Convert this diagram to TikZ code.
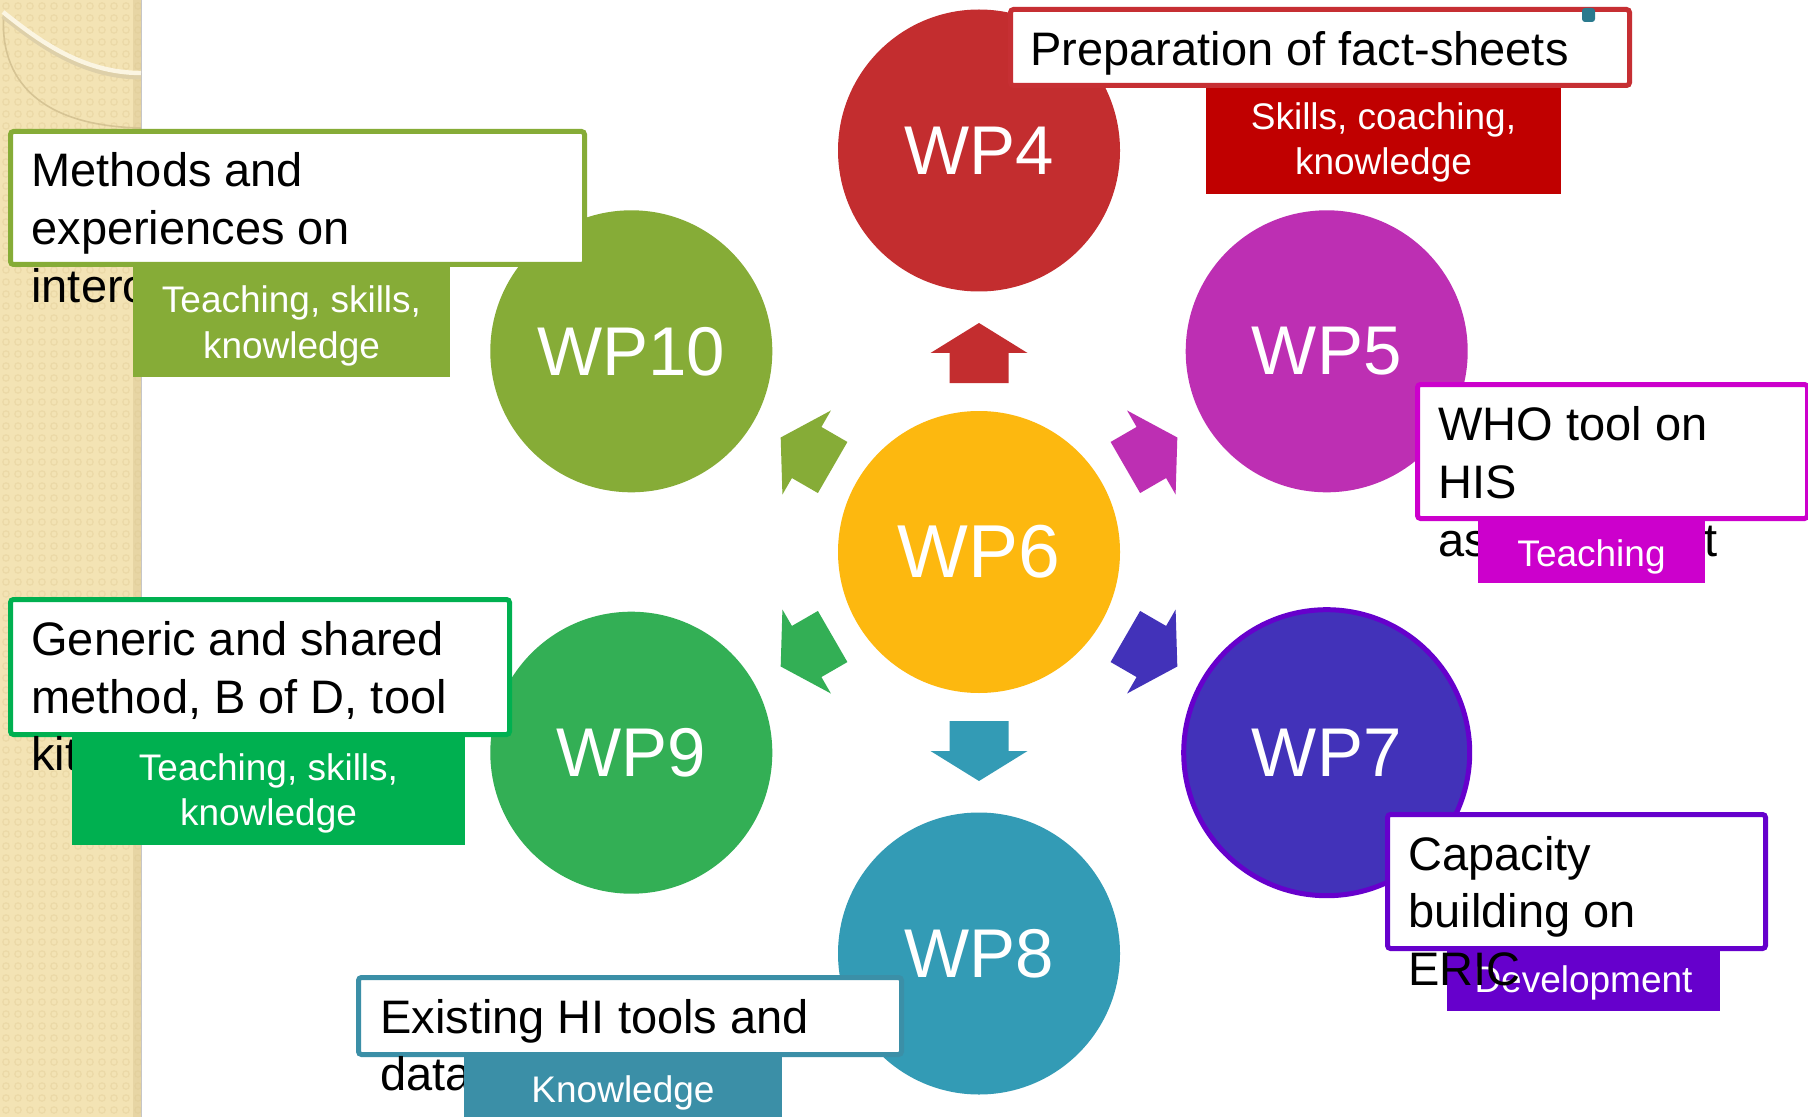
\documentclass[tikz,border=0pt]{standalone}
\usepackage{fontspec}
\setmainfont{Liberation Sans}
\definecolor{cA}{HTML}{C32D2F}
\definecolor{cAsub}{HTML}{C00000}
\definecolor{cAline}{HTML}{C62F33}
\definecolor{cB}{HTML}{BD2FB3}
\definecolor{cBline}{HTML}{CC00CC}
\definecolor{cC}{HTML}{FDB80F}
\definecolor{cD}{HTML}{4232B9}
\definecolor{cDline}{HTML}{6600CC}
\definecolor{cE}{HTML}{339BB5}
\definecolor{cEline}{HTML}{3B8FA7}
\definecolor{cF}{HTML}{33AF55}
\definecolor{cFline}{HTML}{00B050}
\definecolor{cG}{HTML}{86AC37}
\definecolor{stripbg}{HTML}{F3E3B4}
\definecolor{stripdot}{HTML}{EBD9A7}
\definecolor{stripedge}{HTML}{DCC995}
\definecolor{creamline}{HTML}{FBF5E2}
\definecolor{faintline}{HTML}{D6C494}
\definecolor{tealdot}{HTML}{2A7A8E}
\tikzset{
  wpc/.style={circle, inner sep=0pt, minimum size=141pt, text=white,
    font=\fontsize{34.5}{41}\selectfont},
  lbl/.style={anchor=base west, inner sep=0pt, text=black,
    font=\fontsize{23.5}{28}\selectfont},
  lblend/.style={anchor=base east, inner sep=0pt, text=black,
    font=\fontsize{23.5}{28}\selectfont},
  subtxt/.style={anchor=base, inner sep=0pt, text=white,
    font=\fontsize{18.5}{22}\selectfont},
  wbox/.style={fill=white, line width=2.5pt, rounded corners=1.5pt},
  blockarrow/.pic={
    \fill (169,-29.5) -- (199,-29.5) -- (199,-48.5) -- (229,0) -- (199,48.5)
      -- (199,29.5) -- (169,29.5) -- cycle;
  }
}
\begin{document}
\begin{tikzpicture}[x=0.5pt,y=-0.5pt]
\useasboundingbox (0,0) rectangle (1808,1117);
\fill[white] (0,0) rectangle (1808,1117);

% decorative strip at the left
\fill[stripbg] (0,0) rectangle (141,1117);
\foreach \i in {0,...,11}{
  \foreach \j in {0,...,93}{
    \draw[stripdot, line width=0.6pt] ({\i*12+6},{\j*12+6}) circle [radius=3.2];
  }
}
\fill[stripedge, opacity=0.5] (133,0) rectangle (141,1117);
\draw[gray!45, line width=0.6pt] (141.5,0) -- (141.5,1117);
\draw[faintline, line width=0.8pt] (4,12) .. controls (-2,80) and (40,126) .. (141,128);
\draw[faintline!80, line width=2.5pt] (3,16) .. controls (38,44) and (82,77) .. (141,77);
\draw[creamline, line width=2.2pt] (3,12) .. controls (38,40) and (82,73) .. (141,73);

% circles
\node[wpc, fill=cC, font=\fontsize{37.5}{45}\selectfont] (wp6) at (979,552) {WP6};
\node[wpc, fill=cA] (wp4) at (979,150.5) {WP4};
\node[wpc, fill=cB] (wp5) at (1326.7,351.3) {WP5};
\node[wpc, fill=cD, draw=cDline, line width=2.5pt, minimum size=143pt] (wp7) at (1326.7,752.7) {WP7};
\node[wpc, fill=cE] (wp8) at (979,953.5) {WP8};
\node[wpc, fill=cF] (wp9) at (631.3,752.7) {WP9};
\node[wpc, fill=cG] (wp10) at (631.3,351.3) {WP10};

% block arrows out of WP6
\pic[cA, rotate=90] at (wp6.center) {blockarrow};
\pic[cB, rotate=30] at (wp6.center) {blockarrow};
\pic[cD, rotate=-30] at (wp6.center) {blockarrow};
\pic[cE, rotate=-90] at (wp6.center) {blockarrow};
\pic[cF, rotate=-150] at (wp6.center) {blockarrow};
\pic[cG, rotate=150] at (wp6.center) {blockarrow};

% WP4 label
\draw[wbox, draw=cAline] (1010.5,9.5) rectangle (1629.5,85.5);
\node[lbl] (t4a) at (1030,66) {Preparation of fact-sheets};
\fill[tealdot, rounded corners=1.5pt] (1582,8) rectangle (1595,22);
\fill[cAsub] (1206,88) rectangle (1561,194);
\node[subtxt] (s4a) at (1383.5,130) {Skills, coaching,};
\node[subtxt] (s4b) at (1383.5,175) {knowledge};

% WP10 label
\draw[wbox, draw=cG] (10.5,131.5) rectangle (584.5,264.5);
\node[lbl] (t10a) at (31,187) {Methods and};
\node[lbl] (t10b) at (31,245) {experiences on};
\node[lbl] (t10c) at (31,303) {interoperability};
\fill[cG] (133,267) rectangle (450,377);
\node[subtxt] (s10a) at (291.5,313) {Teaching, skills,};
\node[subtxt] (s10b) at (291.5,358) {knowledge};

% WP9 label
\draw[wbox, draw=cFline] (10.5,599.5) rectangle (509.5,734.5);
\node[lbl] (t9a) at (31,655) {Generic and shared};
\node[lbl] (t9b) at (31,713) {method, B of D, tool};
\node[lbl] (t9c) at (31,770) {kit};
\fill[cFline] (72,737) rectangle (465,845);
\node[subtxt] (s9a) at (268.5,780) {Teaching, skills,};
\node[subtxt] (s9b) at (268.5,825) {knowledge};

% WP8 label
\draw[wbox, draw=cEline] (358.5,977.5) rectangle (901.5,1054.5);
\node[lbl] (t8a) at (380,1033) {Existing HI tools and};
\node[lbl] (t8b) at (380,1090) {data};
\fill[cEline] (464,1057) rectangle (782,1117);
\node[subtxt] (s8a) at (623,1102) {Knowledge};

% WP5 label
\draw[wbox, draw=cBline] (1417.5,384.5) rectangle (1807.5,518.5);
\node[lbl] (t5a) at (1438,440) {WHO tool on};
\node[lbl] (t5b) at (1438,498) {HIS};
\node[lbl] (t5c) at (1438,556) {as};
\node[lblend] (t5d) at (1718,556) {t};
\fill[cBline] (1478,521) rectangle (1705,583);
\node[subtxt] (s5a) at (1591.5,566) {Teaching};

% WP7 label
\draw[wbox, draw=cDline] (1387.5,814.5) rectangle (1765.5,948.5);
\node[lbl] (t7a) at (1408,870) {Capacity};
\node[lbl] (t7b) at (1408,927) {building on};
\fill[cDline] (1447,951) rectangle (1720,1011);
\node[subtxt] (s7a) at (1583.5,992) {Development};
\node[lbl] (t7c) at (1408,985) {ERIC};
\end{tikzpicture}
\end{document}
